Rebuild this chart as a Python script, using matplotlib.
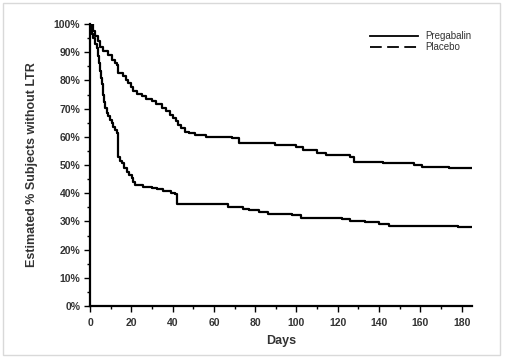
import matplotlib
matplotlib.use("Agg")
import matplotlib.pyplot as plt
from matplotlib.lines import Line2D
from matplotlib.patches import Rectangle
from matplotlib.ticker import MultipleLocator, FuncFormatter

# Kaplan-Meier style step data (days, % without LTR)
preg_days = [0, 1.6, 2.4, 4, 5, 6.4, 8.9, 10.5, 12, 12.9, 13.7, 16.1, 17.5, 18.5, 20, 21, 23, 25, 27,
             29.8, 32, 34.7, 37, 38.7, 40, 41.5, 42.7, 44, 46, 48, 50.8, 56, 69, 72, 89.5, 100, 103,
             109.7, 114.5, 125.8, 128, 142, 157, 161, 174, 185]
preg_pct = [100, 97.4, 95.6, 93.9, 92, 90.3, 89.1, 87.3, 86.2, 85.6, 82.6, 81.4, 80, 79.1, 77.5, 76.1,
            75.2, 74.4, 73.5, 72.6, 71.5, 70.2, 69, 67.8, 66.5, 65.5, 64.2, 63, 61.8, 61.2, 60.6, 60,
            59.4, 57.7, 57.1, 56.5, 55.3, 54.1, 53.5, 53, 51, 50.6, 50, 49.4, 48.8, 48.8]

plac_days = [0, 0.8, 1.6, 2.4, 3.2, 3.7, 4.2, 4.8, 5.3, 5.7, 6.4, 6.9, 7.3, 8, 8.9, 9.7, 10.5, 11.3,
             12, 12.9, 13.7, 14.5, 15.3, 16.5, 17.7, 19, 20.2, 21, 21.8, 25.8, 29.8, 32.3, 35.5, 39,
             41, 42, 53, 67, 74, 77, 82, 86, 97.6, 102, 122, 126, 133, 140, 145, 178, 185]
plac_pct = [100, 96.6, 95, 93, 91.5, 88.5, 86, 83.2, 81, 78.6, 75, 72.5, 70.2, 68.3, 67.3, 66, 65,
            63.6, 62.5, 61.2, 53, 51.5, 50.6, 49, 47.6, 46.5, 45.3, 44, 42.9, 42.1, 41.7, 41.5, 40.8,
            40.2, 39.7, 36.2, 36.0, 35.2, 34.3, 34.0, 33.4, 32.6, 32.3, 31.1, 30.7, 30.1, 29.7, 29.1,
            28.5, 27.9, 27.9]

series_labels = ["Pregabalin", "Placebo"]

plt.rcParams['font.family'] = ['Liberation Sans', 'DejaVu Sans']
txt = '#333333'

fig = plt.figure(figsize=(5.07, 3.58), dpi=100)
fig.patches.append(Rectangle((3/507, 3/358), 497/507, 352/358, transform=fig.transFigure,
                             fill=False, edgecolor='#d9d9d9', linewidth=1.0))
ax = fig.add_axes([90/507, 1-306/358, 382/507, 282/358])

ax.step(preg_days, preg_pct, where='post', color='black', linewidth=1.6)
ax.step(plac_days, plac_pct, where='post', color='black', linewidth=1.6)

ax.set_xlim(0, 185)
ax.set_ylim(0, 100)
ax.xaxis.set_major_locator(MultipleLocator(20))
ax.xaxis.set_minor_locator(MultipleLocator(10))
ax.yaxis.set_major_locator(MultipleLocator(10))
ax.yaxis.set_minor_locator(MultipleLocator(5))
ax.yaxis.set_major_formatter(FuncFormatter(lambda v, p: f"{int(round(v))}%"))

for s in ['top', 'right']:
    ax.spines[s].set_visible(False)
for s in ['left', 'bottom']:
    ax.spines[s].set_linewidth(1.6)
ax.tick_params(which='major', direction='out', length=4, width=1.0, colors='black',
               labelcolor=txt, labelsize=7.5)
ax.tick_params(which='minor', direction='out', length=2.5, width=1.0, colors='black')
for lab in ax.get_xticklabels() + ax.get_yticklabels():
    lab.set_fontweight('bold')
ax.tick_params(axis='y', pad=3)
ax.tick_params(axis='x', pad=5)

ax.set_xlabel("Days", fontsize=9, fontweight='bold', color=txt, labelpad=5)
ax.set_ylabel("Estimated % Subjects without LTR", fontsize=9, fontweight='bold', color=txt, labelpad=11)

handles = [Line2D([], [], color='black', linewidth=1.3, linestyle='-'),
           Line2D([], [], color='black', linewidth=1.3, linestyle=(0, (6.5, 3)))]
leg = ax.legend(handles, series_labels, loc='upper right', bbox_to_anchor=(1.022, 1.006),
                frameon=False, fontsize=7, handlelength=4.9, handletextpad=0.8,
                labelspacing=0.1, labelcolor=txt)

fig.savefig("out.png", dpi=100)
